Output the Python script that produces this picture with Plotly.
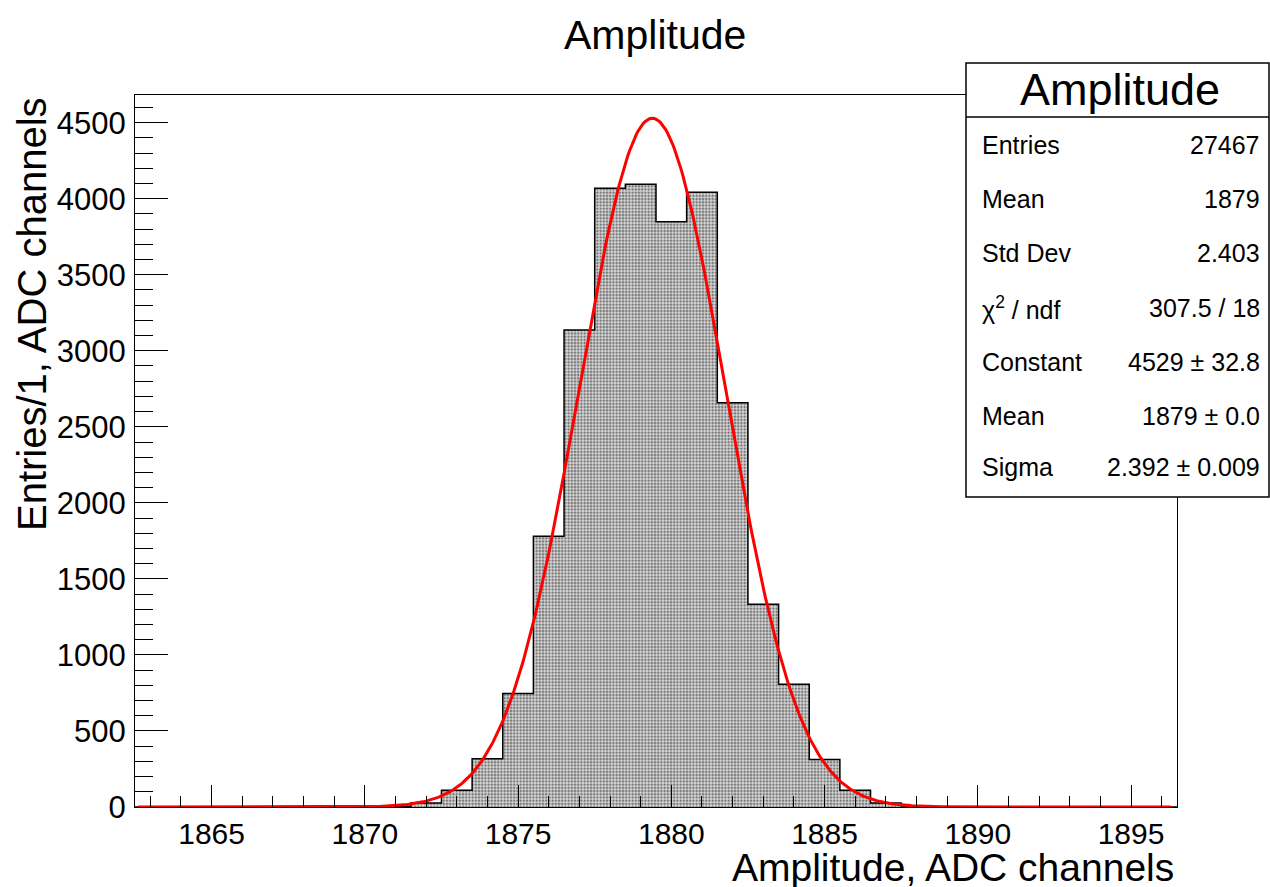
import numpy as np
import plotly.graph_objects as go

# ---- data ----
bin_centers = list(range(1863, 1897))          # 34 bins of width 1
counts = [0, 0, 0, 0, 0, 0, 0,                  # 1863-1869
          1, 3, 26, 110, 318, 746, 1781, 3136,  # 1870-1877
          4068, 4095, 3849, 4042, 2658, 1334,   # 1878-1883
          807, 312, 110, 26, 6, 1,              # 1884-1889
          0, 0, 0, 0, 0, 0, 0]                  # 1890-1896
bin_width = 1.0

# fit parameters (from stats box)
fit_constant = 4529.0
fit_mean = 1879.38
fit_sigma = 2.392
fit_range = [1862.6, 1896.3]

stats_labels = ["Entries", "Mean", "Std Dev", "χ<sup>2</sup> / ndf", "Constant", "Mean", "Sigma"]
stats_values = ["27467", "1879", "2.403", "307.5 / 18", "4529 ± 32.8", "1879 ± 0.0", "2.392 ± 0.009"]

# ---- figure geometry ----
W, H = 1270, 887
ML, MR, MT, MB = 135, 93, 95, 80
PW, PH = W - ML - MR, H - MT - MB

def px(xp):
    return (xp - ML) / PW

def py(yp):
    return 1 - (yp - MT) / PH

FONT = "Liberation Sans, Arial, Helvetica, sans-serif"

edges = [c - bin_width / 2 for c in bin_centers] + [bin_centers[-1] + bin_width / 2]
step_x = edges
step_y = counts + [counts[-1]]

fig = go.Figure()
fig.add_trace(go.Scatter(
    x=step_x, y=step_y, mode="lines", line=dict(shape="hv", color="black", width=1.5),
    fill="tozeroy", fillcolor="rgb(212,212,212)",
    fillpattern=dict(shape=".", fgcolor="rgb(20,20,20)", size=3.2, solidity=0.45),
    hoverinfo="skip", showlegend=False,
))

xf = np.linspace(fit_range[0], fit_range[1], 600)
yf = fit_constant * np.exp(-0.5 * ((xf - fit_mean) / fit_sigma) ** 2)
fig.add_trace(go.Scatter(x=xf, y=yf, mode="lines", line=dict(color="red", width=3),
                         hoverinfo="skip", showlegend=False))

fig.update_layout(
    width=W, height=H,
    margin=dict(l=ML, r=MR, t=MT, b=MB),
    paper_bgcolor="white", plot_bgcolor="white",
    font=dict(family=FONT, color="black"),
    showlegend=False,
)
fig.update_xaxes(
    range=[edges[0], edges[-1]], showgrid=False, zeroline=False,
    showline=True, linecolor="black", linewidth=1, mirror=True,
    ticks="inside", ticklen=22, tickwidth=1, tickcolor="black",
    tick0=1865, dtick=5, tickfont=dict(size=30, family=FONT), ticklabelstandoff=0,
    minor=dict(ticks="inside", dtick=1, ticklen=11, tickwidth=1, tickcolor="black", showgrid=False),
)
fig.update_yaxes(
    range=[0, 4682], showgrid=False, zeroline=False,
    showline=True, linecolor="black", linewidth=1, mirror=True,
    ticks="inside", ticklen=33, tickwidth=1, tickcolor="black",
    tick0=0, dtick=500, tickfont=dict(size=31, family=FONT), ticklabelstandoff=2,
    minor=dict(ticks="inside", dtick=100, ticklen=18, tickwidth=1, tickcolor="black", showgrid=False),
)

ann = []
# title
ann.append(dict(text="Amplitude", x=px(655), y=py(35), xref="paper", yref="paper",
                xanchor="center", yanchor="middle", showarrow=False, font=dict(size=41, family=FONT)))
# axis titles
ann.append(dict(text="Amplitude, ADC channels", x=px(1176), y=py(867), xref="paper", yref="paper",
                xanchor="right", yanchor="middle", showarrow=False, font=dict(size=39, family=FONT)))
ann.append(dict(text="Entries/1, ADC channels", x=px(32), y=py(95), xref="paper", yref="paper",
                xanchor="center", yanchor="top", textangle=-90, showarrow=False,
                font=dict(size=40, family=FONT)))

# stats box
bx0, bx1, by0, by1, bsep = 966, 1269, 63, 497, 117
shapes = [
    dict(type="rect", xref="paper", yref="paper", x0=px(bx0), x1=px(bx1), y0=py(by1), y1=py(by0),
         line=dict(color="black", width=1.5), fillcolor="white", layer="above"),
    dict(type="line", xref="paper", yref="paper", x0=px(bx0), x1=px(bx1), y0=py(bsep), y1=py(bsep),
         line=dict(color="black", width=1.5), layer="above"),
]
ann.append(dict(text="Amplitude", x=px(1120), y=py(89), xref="paper", yref="paper",
                xanchor="center", yanchor="middle", showarrow=False, font=dict(size=45, family=FONT)))
row_y = [145, 199, 253, 308, 362, 416, 467]
for lab, val, ry in zip(stats_labels, stats_values, row_y):
    ann.append(dict(text=lab, x=px(980), y=py(ry), xref="paper", yref="paper",
                    xanchor="left", yanchor="middle", showarrow=False, font=dict(size=25, family=FONT)))
    ann.append(dict(text=val, x=px(1262), y=py(ry), xref="paper", yref="paper",
                    xanchor="right", yanchor="middle", showarrow=False, font=dict(size=25, family=FONT)))

fig.update_layout(annotations=ann, shapes=shapes)
fig.write_html("out.html")
